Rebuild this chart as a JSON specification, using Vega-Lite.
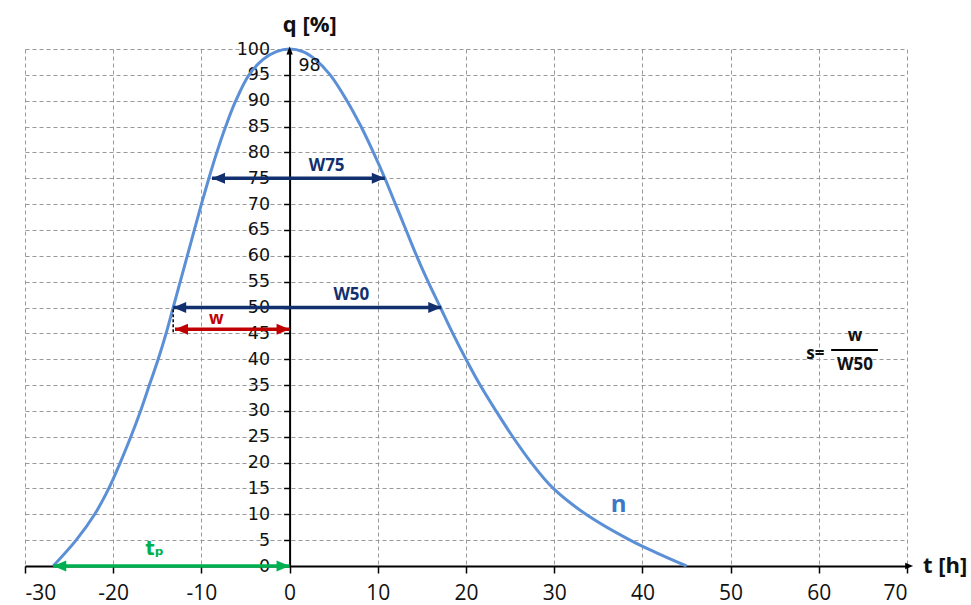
{
  "$schema": "https://vega.github.io/schema/vega-lite/v6.json",
  "autosize": {"type": "none"},
  "width": 882,
  "height": 517,
  "padding": {"left": 25, "top": 49, "right": 64, "bottom": 39},
  "background": "white",
  "config": {"view": {"stroke": null}, "font": "Open Sans"},
  "datasets": {
    "curve": [
      {"t": -26.8, "q": 0}, {"t": -24.2, "q": 5}, {"t": -22.1, "q": 10}, {"t": -20.5, "q": 15},
      {"t": -19.2, "q": 20}, {"t": -18.0, "q": 25}, {"t": -16.9, "q": 30}, {"t": -15.9, "q": 35},
      {"t": -14.9, "q": 40}, {"t": -14.0, "q": 45}, {"t": -13.2, "q": 50}, {"t": -12.4, "q": 55},
      {"t": -11.6, "q": 60}, {"t": -10.8, "q": 65}, {"t": -10.0, "q": 70}, {"t": -9.15, "q": 75},
      {"t": -8.25, "q": 80}, {"t": -7.25, "q": 85}, {"t": -6.1, "q": 90}, {"t": -4.6, "q": 95},
      {"t": -3.0, "q": 98}, {"t": -1.5, "q": 99.5}, {"t": 0, "q": 100}, {"t": 1.5, "q": 99.5},
      {"t": 2.9, "q": 98}, {"t": 4.6, "q": 95}, {"t": 6.5, "q": 90}, {"t": 8.1, "q": 85},
      {"t": 9.5, "q": 80}, {"t": 10.8, "q": 75}, {"t": 12.0, "q": 70}, {"t": 13.2, "q": 65},
      {"t": 14.4, "q": 60}, {"t": 15.7, "q": 55}, {"t": 17.1, "q": 50}, {"t": 18.5, "q": 45},
      {"t": 20.0, "q": 40}, {"t": 21.6, "q": 35}, {"t": 23.4, "q": 30}, {"t": 25.3, "q": 25},
      {"t": 27.4, "q": 20}, {"t": 29.9, "q": 15}, {"t": 33.6, "q": 10},
      {"t": 38.6, "q": 5}, {"t": 41.8, "q": 2.4}, {"t": 45.0, "q": 0}
    ],
    "arrows": [
      {"name": "W75", "t1": -8.8, "t2": 10.8, "q": 75},
      {"name": "W50", "t1": -13.2, "t2": 17.2, "q": 50},
      {"name": "w", "t1": -13.0, "t2": 0, "q": 45.8},
      {"name": "tp", "t1": -26.8, "t2": 0, "q": 0}
    ]
  },
  "layer": [
    {
      "data": {"name": "curve"},
      "mark": {"type": "line", "interpolate": "catmull-rom", "color": "#5b8fd6", "strokeWidth": 3},
      "encoding": {
        "x": {
          "field": "t", "type": "quantitative",
          "scale": {"domain": [-30, 70], "nice": false, "zero": false},
          "axis": {
            "title": null, "values": [-30, -20, -10, 0, 10, 20, 30, 40, 50, 60, 70], "tickCount": 30,
            "labelExpr": "'' + datum.value",
            "grid": true, "gridDash": [4, 3], "gridColor": "#999999", "gridWidth": 1,
            "domainColor": "#000000", "domainWidth": 2, "tickColor": "#000000", "tickWidth": 1.5,
            "tickSize": 7, "labelFontSize": 21, "labelColor": "#111111", "labelPadding": 9,
            "labelFont": "Open Sans", "labelOverlap": false
          }
        },
        "y": {
          "field": "q", "type": "quantitative",
          "scale": {"domain": [0, 100], "nice": false},
          "axis": {
            "title": null, "values": [0, 5, 10, 15, 20, 25, 30, 35, 40, 45, 50, 55, 60, 65, 70, 75, 80, 85, 90, 95, 100],
            "tickCount": 30,
            "grid": true, "gridDash": [4, 3], "gridColor": "#999999", "gridWidth": 1,
            "offset": -264.6, "domainColor": "#000000", "domainWidth": 2, "tickColor": "#000000",
            "tickWidth": 1.5, "tickSize": 6, "labelFontSize": 17.5, "labelColor": "#111111",
            "labelPadding": 14, "labelFont": "DejaVu Sans", "labelOverlap": false
          }
        }
      }
    },
    {
      "data": {"values": [{"t": -13.2, "q1": 45.2, "q2": 50}]},
      "mark": {"type": "rule", "color": "#000000", "strokeWidth": 1.5, "strokeDash": [3, 2]},
      "encoding": {"x": {"field": "t", "type": "quantitative"}, "y": {"field": "q1", "type": "quantitative"}, "y2": {"field": "q2"}}
    },
    {
      "data": {"name": "arrows"},
      "mark": {"type": "rule", "strokeWidth": 3.5},
      "encoding": {
        "x": {"field": "t1", "type": "quantitative"},
        "x2": {"field": "t2"},
        "y": {"field": "q", "type": "quantitative"},
        "color": {"field": "name", "type": "nominal", "legend": null,
          "scale": {"domain": ["W75", "W50", "w", "tp"], "range": ["#13306e", "#13306e", "#c00000", "#00b050"]}}
      }
    },
    {
      "data": {"name": "arrows"},
      "mark": {"type": "point", "shape": "M0,0L2,-0.85L2,0.85Z", "filled": true, "opacity": 1, "size": 170},
      "encoding": {
        "x": {"field": "t1", "type": "quantitative"},
        "y": {"field": "q", "type": "quantitative"},
        "color": {"field": "name", "type": "nominal", "legend": null,
          "scale": {"domain": ["W75", "W50", "w", "tp"], "range": ["#13306e", "#13306e", "#c00000", "#00b050"]}}
      }
    },
    {
      "data": {"name": "arrows"},
      "mark": {"type": "point", "shape": "M0,0L-2,-0.85L-2,0.85Z", "filled": true, "opacity": 1, "size": 170},
      "encoding": {
        "x": {"field": "t2", "type": "quantitative"},
        "y": {"field": "q", "type": "quantitative"},
        "color": {"field": "name", "type": "nominal", "legend": null,
          "scale": {"domain": ["W75", "W50", "w", "tp"], "range": ["#13306e", "#13306e", "#c00000", "#00b050"]}}
      }
    },
    {
      "data": {"values": [{"t": 70.7, "q": 0}]},
      "mark": {"type": "point", "shape": "M0,0L-2,-0.8L-2,0.8Z", "filled": true, "opacity": 1, "size": 64, "color": "#000000"},
      "encoding": {"x": {"field": "t", "type": "quantitative"}, "y": {"field": "q", "type": "quantitative"}}
    },
    {
      "data": {"values": [{"t": 0, "q": 100.5}]},
      "mark": {"type": "point", "shape": "M0,0L-0.8,2L0.8,2Z", "filled": true, "opacity": 1, "size": 64, "color": "#000000"},
      "encoding": {"x": {"field": "t", "type": "quantitative"}, "y": {"field": "q", "type": "quantitative"}}
    },
    {
      "data": {"values": [{"t": 61.4, "t2": 66.7, "q": 41.8}]},
      "mark": {"type": "rule", "color": "#000000", "strokeWidth": 2},
      "encoding": {"x": {"field": "t", "type": "quantitative"}, "x2": {"field": "t2"}, "y": {"field": "q", "type": "quantitative"}}
    },
    {
      "data": {"values": [{"t": 4.2, "q": 77.4, "label": "W75"}, {"t": 7.0, "q": 52.4, "label": "W50"}]},
      "mark": {"type": "text", "fontWeight": "bold", "fontSize": 17, "color": "#13306e", "font": "Open Sans"},
      "encoding": {"x": {"field": "t", "type": "quantitative"}, "y": {"field": "q", "type": "quantitative"}, "text": {"field": "label"}}
    },
    {
      "data": {"values": [{"t": -8.3, "q": 47.8, "label": "w"}]},
      "mark": {"type": "text", "fontWeight": "bold", "fontSize": 17, "color": "#c00000", "font": "Open Sans"},
      "encoding": {"x": {"field": "t", "type": "quantitative"}, "y": {"field": "q", "type": "quantitative"}, "text": {"field": "label"}}
    },
    {
      "data": {"values": [{"t": -15.3, "q": 3.3, "label": "tₚ"}]},
      "mark": {"type": "text", "fontWeight": "bold", "fontSize": 19, "color": "#00b050", "font": "DejaVu Sans"},
      "encoding": {"x": {"field": "t", "type": "quantitative"}, "y": {"field": "q", "type": "quantitative"}, "text": {"field": "label"}}
    },
    {
      "data": {"values": [{"t": 1.0, "q": 96.7, "label": "98"}]},
      "mark": {"type": "text", "fontSize": 17.5, "color": "#111111", "align": "left", "font": "DejaVu Sans"},
      "encoding": {"x": {"field": "t", "type": "quantitative"}, "y": {"field": "q", "type": "quantitative"}, "text": {"field": "label"}}
    },
    {
      "data": {"values": [{"t": 37.3, "q": 11.8, "label": "n"}]},
      "mark": {"type": "text", "fontSize": 24, "fontWeight": "bold", "color": "#3b78c5", "font": "Open Sans"},
      "encoding": {"x": {"field": "t", "type": "quantitative"}, "y": {"field": "q", "type": "quantitative"}, "text": {"field": "label"}}
    },
    {
      "data": {"values": [{"t": 2.3, "q": 104.6, "label": "q [%]"}]},
      "mark": {"type": "text", "fontSize": 22, "fontWeight": "bold", "color": "#111111", "font": "Open Sans"},
      "encoding": {"x": {"field": "t", "type": "quantitative"}, "y": {"field": "q", "type": "quantitative"}, "text": {"field": "label"}}
    },
    {
      "data": {"values": [{"t": 71.8, "q": 0, "label": "t [h]"}]},
      "mark": {"type": "text", "fontSize": 22, "fontWeight": "bold", "color": "#111111", "align": "left", "font": "Open Sans"},
      "encoding": {"x": {"field": "t", "type": "quantitative"}, "y": {"field": "q", "type": "quantitative"}, "text": {"field": "label"}}
    },
    {
      "data": {"values": [{"t": 59.6, "q": 41.1, "label": "s="}, {"t": 64.1, "q": 44.4, "label": "w"}, {"t": 64.1, "q": 38.9, "label": "W50"}]},
      "mark": {"type": "text", "fontSize": 17, "fontWeight": "bold", "color": "#111111", "font": "Open Sans"},
      "encoding": {"x": {"field": "t", "type": "quantitative"}, "y": {"field": "q", "type": "quantitative"}, "text": {"field": "label"}}
    }
  ]
}
